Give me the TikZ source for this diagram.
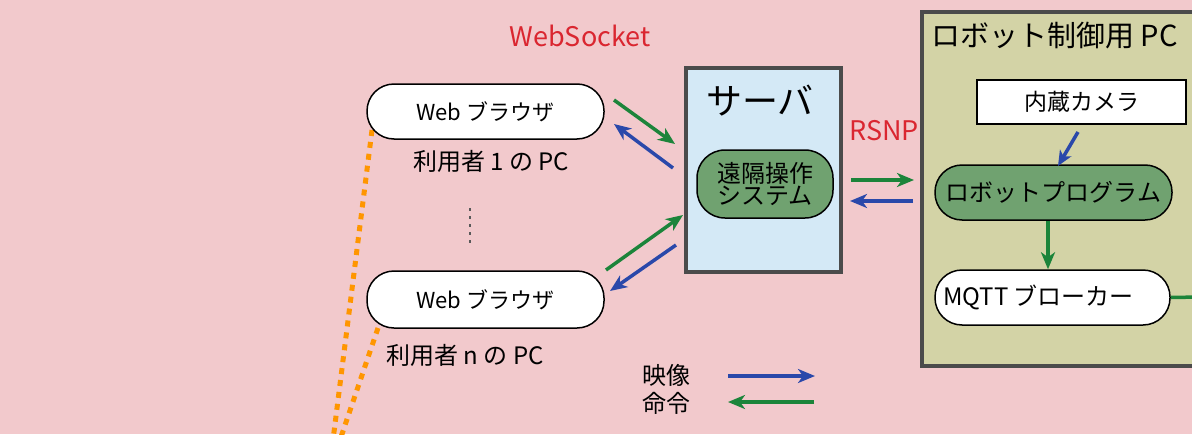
\documentclass[tikz,border=0pt]{standalone}
\usepackage{fontspec}
\setmainfont{Noto Sans CJK JP}
\usetikzlibrary{arrows.meta}
\definecolor{bgpink}{RGB}{242,201,204}
\definecolor{lblue}{RGB}{212,233,246}
\definecolor{olive}{RGB}{211,211,166}
\definecolor{sysgreen}{RGB}{112,162,112}
\definecolor{agreen}{RGB}{28,132,58}
\definecolor{ablue}{RGB}{42,72,170}
\definecolor{tred}{RGB}{218,38,48}
\definecolor{bgray}{RGB}{75,75,75}
\definecolor{orng}{RGB}{255,150,0}
\tikzset{
  pill/.style={draw=black,line width=1.5pt,rounded corners=27pt,fill=white,inner sep=0pt,font=\fontsize{22}{26}\selectfont},
  bigbox/.style={draw=bgray,line width=4pt,inner sep=0pt},
  lbl/.style={inner sep=0pt,font=\fontsize{24}{28}\selectfont},
  redlbl/.style={inner sep=0pt,text=tred,font=\fontsize{27}{30}\selectfont},
  garrow/.style={draw=agreen,line width=3.5pt,-{Stealth[length=17pt,width=14pt,inset=5pt]}},
  barrow/.style={draw=ablue,line width=3.5pt,-{Stealth[length=17pt,width=14pt,inset=5pt]}},
  orangedots/.style={draw=orng,line width=5pt,dash pattern=on 6pt off 6pt}
}
\begin{document}
\begin{tikzpicture}[x=1pt,y=-1pt]
\fill[bgpink] (0,0) rectangle (1192,434);
\useasboundingbox (0,0) rectangle (1192,434);
\begin{scope}
\clip (0,0) rectangle (1192,434);
% orange dotted lines
\coordinate (o1a) at (372,130);
\coordinate (o1b) at (333,440);
\coordinate (o2a) at (378,328);
\coordinate (o2b) at (340,440);
\draw[orangedots] (o1a) -- (o1b);
\draw[orangedots] (o2a) -- (o2b);

% top label
\node[redlbl] (ws) at (580,36) {WebSocket};

% browsers
\node[pill,minimum width=237pt,minimum height=55pt] (b1) at (485.5,111.5) {Web ブラウザ};
\node[lbl] (u1) at (491,161) {利用者 1 の PC};
\node[pill,minimum width=237pt,minimum height=57pt] (bn) at (485.5,299.5) {Web ブラウザ};
\node[lbl] (un) at (465,355) {利用者 n の PC};
\coordinate (d1) at (470,208);
\coordinate (d2) at (470,244);
\draw[gray!70!black,line width=1.2pt,dash pattern=on 3pt off 5pt] (d1) -- (d2);

% server
\node[bigbox,fill=lblue,minimum width=155pt,minimum height=204pt] (srv) at (763.5,170) {};
\node[inner sep=0pt,font=\fontsize{36}{40}\selectfont] (srvt) at (760,101) {サーバ};
\node[draw=black,line width=1.5pt,fill=sysgreen,rounded corners=28pt,minimum width=136pt,minimum height=68pt,inner sep=0pt,align=center,font=\fontsize{24}{22}\selectfont] (sys) at (765,184) {遠隔操作\\システム};

% arrows browser <-> server
\coordinate (g1s) at (614,100); \coordinate (g1e) at (675,144);
\coordinate (b1s) at (673,168); \coordinate (b1e) at (614,124);
\draw[garrow] (g1s) -- (g1e);
\draw[barrow] (b1s) -- (b1e);
\coordinate (g2s) at (606,270); \coordinate (g2e) at (683,215);
\coordinate (b2s) at (676,245); \coordinate (b2e) at (610,291);
\draw[garrow] (g2s) -- (g2e);
\draw[barrow] (b2s) -- (b2e);

% RSNP
\node[redlbl] (rsnp) at (884,131) {RSNP};
\coordinate (g3s) at (851,180); \coordinate (g3e) at (914,180);
\coordinate (b3s) at (913,201); \coordinate (b3e) at (850,201);
\draw[garrow] (g3s) -- (g3e);
\draw[barrow] (b3s) -- (b3e);

% robot PC
\node[bigbox,fill=olive,minimum width=290pt,minimum height=354pt] (rpc) at (1067,189) {};
\node[inner sep=0pt,anchor=west,font=\fontsize{29}{32}\selectfont] (rpct) at (931,36) {ロボット制御用 PC};
\node[draw=black,line width=1.5pt,fill=white,minimum width=209pt,minimum height=44pt,inner sep=0pt,font=\fontsize{23}{26}\selectfont] (cam) at (1081.5,102) {内蔵カメラ};
\node[pill,fill=sysgreen,minimum width=237pt,minimum height=55pt,font=\fontsize{24}{26}\selectfont] (prog) at (1053.5,192.5) {ロボットプログラム};
\node[pill,minimum width=235pt,minimum height=55pt] (mqtt) at (1052.5,297.5) {};
\node[inner sep=0pt,anchor=west,font=\fontsize{24}{26}\selectfont] (mqttt) at (943,297.5) {MQTT ブローカー};
\coordinate (c1) at (1078,132); \coordinate (c2) at (1058,166);
\draw[barrow,-{Stealth[length=15pt,width=13pt,inset=4pt]}] (c1) -- (c2);
\draw[garrow] (prog.south -| 1048,0) -- (mqtt.north -| 1048,0);
\coordinate (mo) at (1200,297);
\draw[agreen,line width=3.5pt] (mqtt.east) -- (mo);
\end{scope}

% legend
\node[lbl,anchor=west] (leg1) at (642,375) {映像};
\node[lbl,anchor=west] (leg2) at (642,403) {命令};
\coordinate (l1s) at (728,376); \coordinate (l1e) at (815,376);
\coordinate (l2s) at (814,402); \coordinate (l2e) at (728,402);
\draw[barrow] (l1s) -- (l1e);
\draw[garrow] (l2s) -- (l2e);
\end{tikzpicture}
\end{document}
